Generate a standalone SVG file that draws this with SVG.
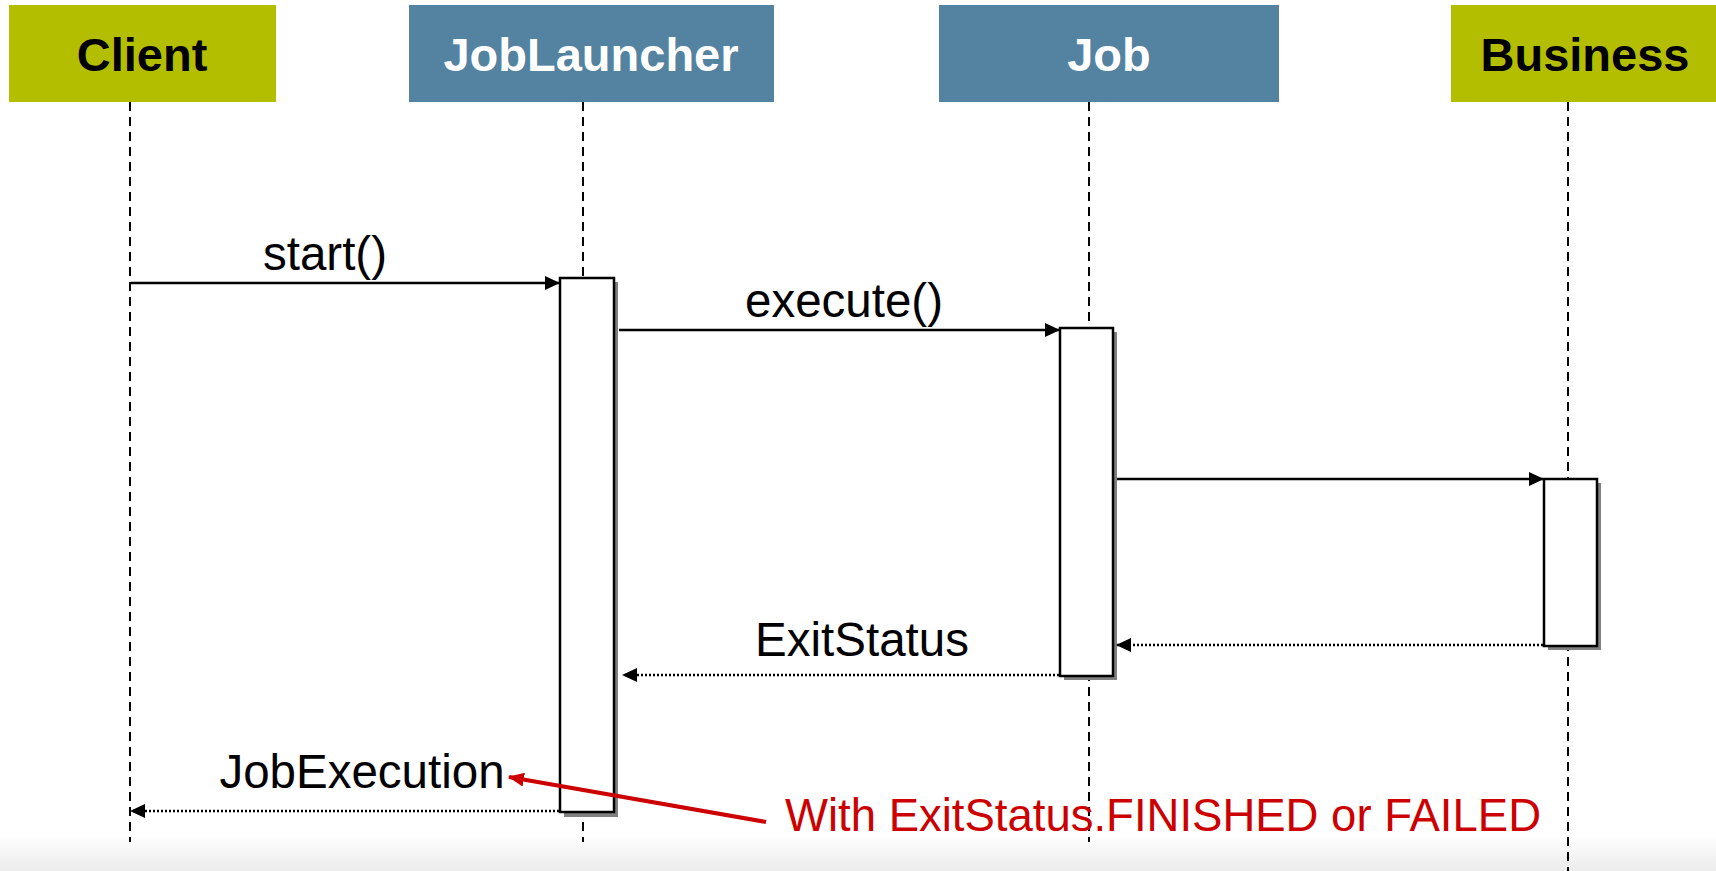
<svg xmlns="http://www.w3.org/2000/svg" width="1716" height="871" viewBox="0 0 1716 871">
<defs>
<style>
.hdrG{fill:#B4BE00}
.hdrB{fill:#5383A1}
.htxt{font-family:"Liberation Sans",Arial,sans-serif;font-weight:bold;font-size:47px;text-anchor:middle}
.life{stroke:#000;stroke-width:2;stroke-dasharray:9 6;fill:none}
.act{fill:#fff;stroke:#000;stroke-width:2.5}
.shadow{fill:#808080}
.msg{stroke:#000;stroke-width:2.5;fill:none}
.ret{stroke:#000;stroke-width:2.5;stroke-dasharray:2 2;fill:none}
.lbl{font-family:"Liberation Sans",Arial,sans-serif;font-size:47.5px;fill:#000;text-anchor:middle}
.note{font-family:"Liberation Sans",Arial,sans-serif;font-size:45.5px;fill:#CC0000}
</style>
<marker id="ah" markerWidth="15" markerHeight="14" refX="14" refY="7" orient="auto" markerUnits="userSpaceOnUse">
<path d="M0,0 L15,7 L0,14 Z" fill="#000"/>
</marker>
<marker id="ahr" markerWidth="16" markerHeight="14" refX="15" refY="7" orient="auto" markerUnits="userSpaceOnUse">
<path d="M0,0 L16,7 L0,14 Z" fill="#CC0000"/>
</marker>
<linearGradient id="fade" x1="0" y1="0" x2="0" y2="1">
<stop offset="0" stop-color="#ffffff"/>
<stop offset="1" stop-color="#ebebeb"/>
</linearGradient>
</defs>
<rect x="0" y="0" width="1716" height="871" fill="#fff"/>
<rect x="0" y="835" width="1716" height="36" fill="url(#fade)"/>

<g id="client">
<rect class="hdrG" x="9" y="5" width="267" height="97"/>
<text class="htxt" x="142" y="71" fill="#000">Client</text>
<line class="life" x1="130" y1="102" x2="130" y2="842"/>
</g>

<g id="joblauncher">
<rect class="hdrB" x="409" y="5" width="365" height="97"/>
<text class="htxt" x="591" y="71" fill="#fff">JobLauncher</text>
<line class="life" x1="583" y1="102" x2="583" y2="842"/>
<rect class="shadow" x="564" y="282" width="54" height="535"/>
<rect class="act" x="560" y="278" width="54" height="534"/>
</g>

<g id="job">
<rect class="hdrB" x="939" y="5" width="340" height="97"/>
<text class="htxt" x="1109" y="71" fill="#fff">Job</text>
<line class="life" x1="1089" y1="102" x2="1089" y2="842"/>
<rect class="shadow" x="1064" y="332" width="53" height="348"/>
<rect class="act" x="1060" y="328" width="53" height="348"/>
</g>

<g id="business">
<rect class="hdrG" x="1451" y="5" width="265" height="97"/>
<text class="htxt" x="1585" y="71" fill="#000">Business</text>
<line class="life" x1="1568" y1="102" x2="1568" y2="871"/>
<rect class="shadow" x="1548" y="483" width="53" height="167"/>
<rect class="act" x="1544" y="479" width="53" height="167"/>
</g>

<g id="connectors">
<line class="msg" x1="131" y1="283" x2="559" y2="283" marker-end="url(#ah)"/>
<text class="lbl" x="325" y="270">start()</text>
<line class="msg" x1="619" y1="330" x2="1059" y2="330" marker-end="url(#ah)"/>
<text class="lbl" x="844" y="317">execute()</text>
<line class="msg" x1="1117" y1="479" x2="1543" y2="479" marker-end="url(#ah)"/>
<line class="ret" x1="1543" y1="645" x2="1117" y2="645" marker-end="url(#ah)"/>
<line class="ret" x1="1059" y1="675" x2="623" y2="675" marker-end="url(#ah)"/>
<text class="lbl" x="862" y="656">ExitStatus</text>
<line class="ret" x1="559" y1="811" x2="131" y2="811" marker-end="url(#ah)"/>
<text class="lbl" x="362" y="788">JobExecution</text>
<line x1="766" y1="822" x2="509" y2="777" stroke="#CC0000" stroke-width="4" marker-end="url(#ahr)"/>
<text class="note" x="785" y="831">With ExitStatus.FINISHED or FAILED</text>
</g>
</svg>
